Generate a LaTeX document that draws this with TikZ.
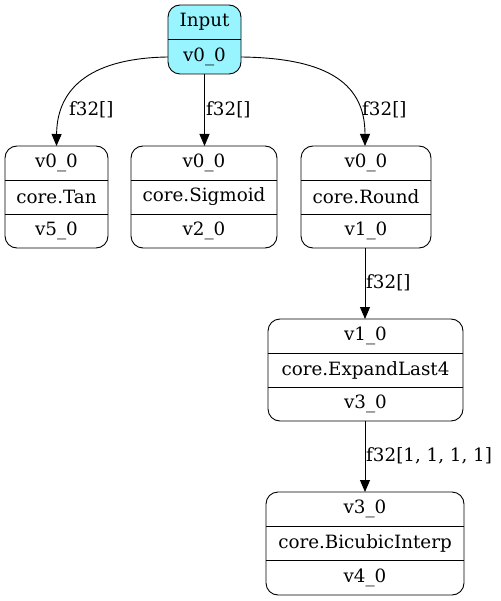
\documentclass[tikz,border=0pt]{standalone}
\usepackage{fontspec}
\setmainfont{DejaVu Serif}
\usetikzlibrary{arrows.meta}
\definecolor{incyan}{HTML}{98F5FF}
\tikzset{
  box/.style={draw, rounded corners=12pt, line width=0.9pt, inner sep=0pt, outer sep=0pt, fill=white},
  txt/.style={inner sep=0pt, font=\fontsize{18.3}{22}\selectfont},
  lbl/.style={inner sep=0pt, anchor=west, font=\fontsize{18.3}{22}\selectfont},
  edge/.style={line width=0.9pt, -{Triangle[length=12pt,width=10pt]}}
}
\newcommand\mybox[8]{%
  \node[box, minimum width=#4pt, minimum height=#5pt] (#1) at (#2,{#3+#5/2}) {};
  \draw[line width=0.9pt] ({#2-#4/2},{#3+#5/3}) -- ({#2+#4/2},{#3+#5/3});
  \draw[line width=0.9pt] ({#2-#4/2},{#3+2*#5/3}) -- ({#2+#4/2},{#3+2*#5/3});
  \node[txt] (#1-1) at (#2,{#3+#5/6}) {#6};
  \node[txt] (#1-2) at (#2,{#3+#5/2}) {#7};
  \node[txt] (#1-3) at (#2,{#3+5*#5/6}) {#8};
}
\begin{document}
\begin{tikzpicture}[x=1pt,y=-1pt]
\useasboundingbox (0,0) rectangle (500,601);
% input node
\node[box, fill=incyan, minimum width=73pt, minimum height=69pt] (in) at (204.5,39.5) {};
\draw[line width=0.9pt] (168,39.5) -- (241,39.5);
\node[txt] (in-1) at (204.5,22) {Input};
\node[txt] (in-2) at (204.5,57) {v0\_0};
% op nodes
\mybox{tan}{56.5}{146}{103}{102}{v0\_0}{core.Tan}{v5\_0}
\mybox{sig}{204}{146}{146}{102}{v0\_0}{core.Sigmoid}{v2\_0}
\mybox{rnd}{366}{146}{130}{102}{v0\_0}{core.Round}{v1\_0}
\mybox{exp}{365.5}{319}{195}{102}{v1\_0}{core.ExpandLast4}{v3\_0}
\mybox{bic}{365}{492}{198}{103}{v3\_0}{core.BicubicInterp}{v4\_0}
% edges
\draw[edge] (in.west |- in-2) .. controls (95,58) and (57,85) .. (tan.north);
\draw[edge] (in.south) -- (in.south |- sig.north);
\draw[edge] (in.east |- in-2) .. controls (330,58) and (365,85) .. (rnd.north -| 365,0);
\draw[edge] (rnd.south -| 365,0) -- (exp.north -| 365,0);
\draw[edge] (exp.south -| 365,0) -- (bic.north -| 365,0);
% labels
\node[lbl] (l1) at (69,110) {f32[]};
\node[lbl] (l2) at (206,110) {f32[]};
\node[lbl] (l3) at (362,110) {f32[]};
\node[lbl] (l4) at (366,283) {f32[]};
\node[lbl] (l5) at (366,456) {f32[1, 1, 1, 1]};
\end{tikzpicture}
\end{document}
